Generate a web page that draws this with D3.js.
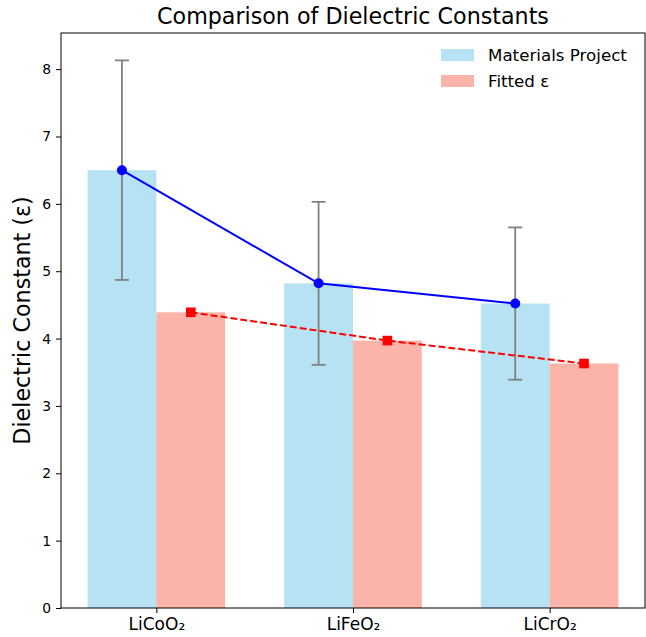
<!DOCTYPE html>
<html>
<head>
<meta charset="utf-8">
<script src="https://cdn.jsdelivr.net/npm/d3@7"></script>
<style>
  body { margin: 0; background: #fff; }
  text { font-family: "DejaVu Sans", sans-serif; fill: #000; }
</style>
</head>
<body>
<svg id="chart" width="646" height="637"></svg>
<script>
// data
var materials = ["LiCoO₂", "LiFeO₂", "LiCrO₂"];
var mpValues = [6.50, 4.82, 4.52];
var mpErrors = [1.63, 1.21, 1.13];
var fittedValues = [4.39, 3.97, 3.63];
var yTicks = [0, 1, 2, 3, 4, 5, 6, 7, 8];
var legendLabels = ["Materials Project", "Fitted ε"];

var svg = d3.select("#chart");
var margin = {left: 61, right: 1, top: 33, bottom: 29};
var width = 646 - margin.left - margin.right;
var height = 637 - margin.top - margin.bottom;
var barWidth = 0.35;

var x = d3.scaleLinear().domain([-0.485, 2.485]).range([0, width]);
var yMax = d3.max(mpValues, (d, i) => d + mpErrors[i]) * 1.05;
var y = d3.scaleLinear().domain([0, yMax]).range([height, 0]);

var g = svg.append("g").attr("transform", "translate(" + margin.left + "," + margin.top + ")");

// bars
g.selectAll(".mp-bar")
    .data(mpValues)
    .join("rect")
    .attr("x", (d, i) => x(i - barWidth))
    .attr("width", x(barWidth) - x(0))
    .attr("y", d => y(d))
    .attr("height", d => y(0) - y(d))
    .attr("fill", "skyblue")
    .attr("fill-opacity", 0.6);

g.selectAll(".fit-bar")
    .data(fittedValues)
    .join("rect")
    .attr("x", (d, i) => x(i))
    .attr("width", x(barWidth) - x(0))
    .attr("y", d => y(d))
    .attr("height", d => y(0) - y(d))
    .attr("fill", "salmon")
    .attr("fill-opacity", 0.6);

// error bars
var err = g.append("g").attr("stroke", "#808080").attr("stroke-width", 1.8);
mpValues.forEach(function(d, i) {
    var cx = x(i - barWidth / 2);
    err.append("line").attr("x1", cx).attr("x2", cx)
        .attr("y1", y(d - mpErrors[i])).attr("y2", y(d + mpErrors[i]));
    [d - mpErrors[i], d + mpErrors[i]].forEach(function(v) {
        err.append("line").attr("x1", cx - 7).attr("x2", cx + 7)
            .attr("y1", y(v)).attr("y2", y(v));
    });
});

// lines
var mpLine = d3.line().x((d, i) => x(i - barWidth / 2)).y(d => y(d));
var fitLine = d3.line().x((d, i) => x(i + barWidth / 2)).y(d => y(d));

g.append("path").datum(mpValues)
    .attr("d", mpLine).attr("fill", "none")
    .attr("stroke", "blue").attr("stroke-width", 2);
g.selectAll(".mp-dot")
    .data(mpValues)
    .join("circle")
    .attr("cx", (d, i) => x(i - barWidth / 2))
    .attr("cy", d => y(d))
    .attr("r", 5)
    .attr("fill", "blue");

g.append("path").datum(fittedValues)
    .attr("d", fitLine).attr("fill", "none")
    .attr("stroke", "red").attr("stroke-width", 2)
    .attr("stroke-dasharray", "7,3");
g.selectAll(".fit-dot")
    .data(fittedValues)
    .join("rect")
    .attr("x", (d, i) => x(i + barWidth / 2) - 4.8)
    .attr("y", d => y(d) - 4.8)
    .attr("width", 9.6).attr("height", 9.6)
    .attr("fill", "red");

// axes
var yAxis = g.append("g")
    .call(d3.axisLeft(y).tickValues(yTicks).tickSize(5).tickPadding(5).tickFormat(d3.format("d")));
yAxis.selectAll("text").style("font-size", "13.9px");

var xAxis = g.append("g")
    .attr("transform", "translate(0," + height + ")")
    .call(d3.axisBottom(x).tickValues([0, 1, 2]).tickSize(5).tickPadding(5).tickFormat(i => materials[i]));
xAxis.selectAll("text").style("font-size", "17px");

g.selectAll(".domain").remove();
g.selectAll(".tick line").attr("stroke", "#000").attr("stroke-width", 1);

g.append("rect")
    .attr("width", width).attr("height", height)
    .attr("fill", "none").attr("stroke", "#000").attr("stroke-width", 1);

// title and label
svg.append("text")
    .attr("x", margin.left + width / 2).attr("y", 24)
    .attr("text-anchor", "middle")
    .style("font-size", "22.2px")
    .text("Comparison of Dielectric Constants");

svg.append("text")
    .attr("transform", "translate(30," + (margin.top + height / 2) + ") rotate(-90)")
    .attr("text-anchor", "middle")
    .style("font-size", "22.2px")
    .text("Dielectric Constant (ε)");

// legend
var legend = g.append("g").attr("transform", "translate(" + (width - 204) + ",16)");
var legendColors = ["skyblue", "salmon"];
legendLabels.forEach(function(label, i) {
    legend.append("rect")
        .attr("x", 0).attr("y", i * 26)
        .attr("width", 33).attr("height", 12)
        .attr("fill", legendColors[i]).attr("fill-opacity", 0.6);
    legend.append("text")
        .attr("x", 47).attr("y", i * 26 + 12)
        .style("font-size", "16.7px")
        .text(label);
});
</script>
</body>
</html>
